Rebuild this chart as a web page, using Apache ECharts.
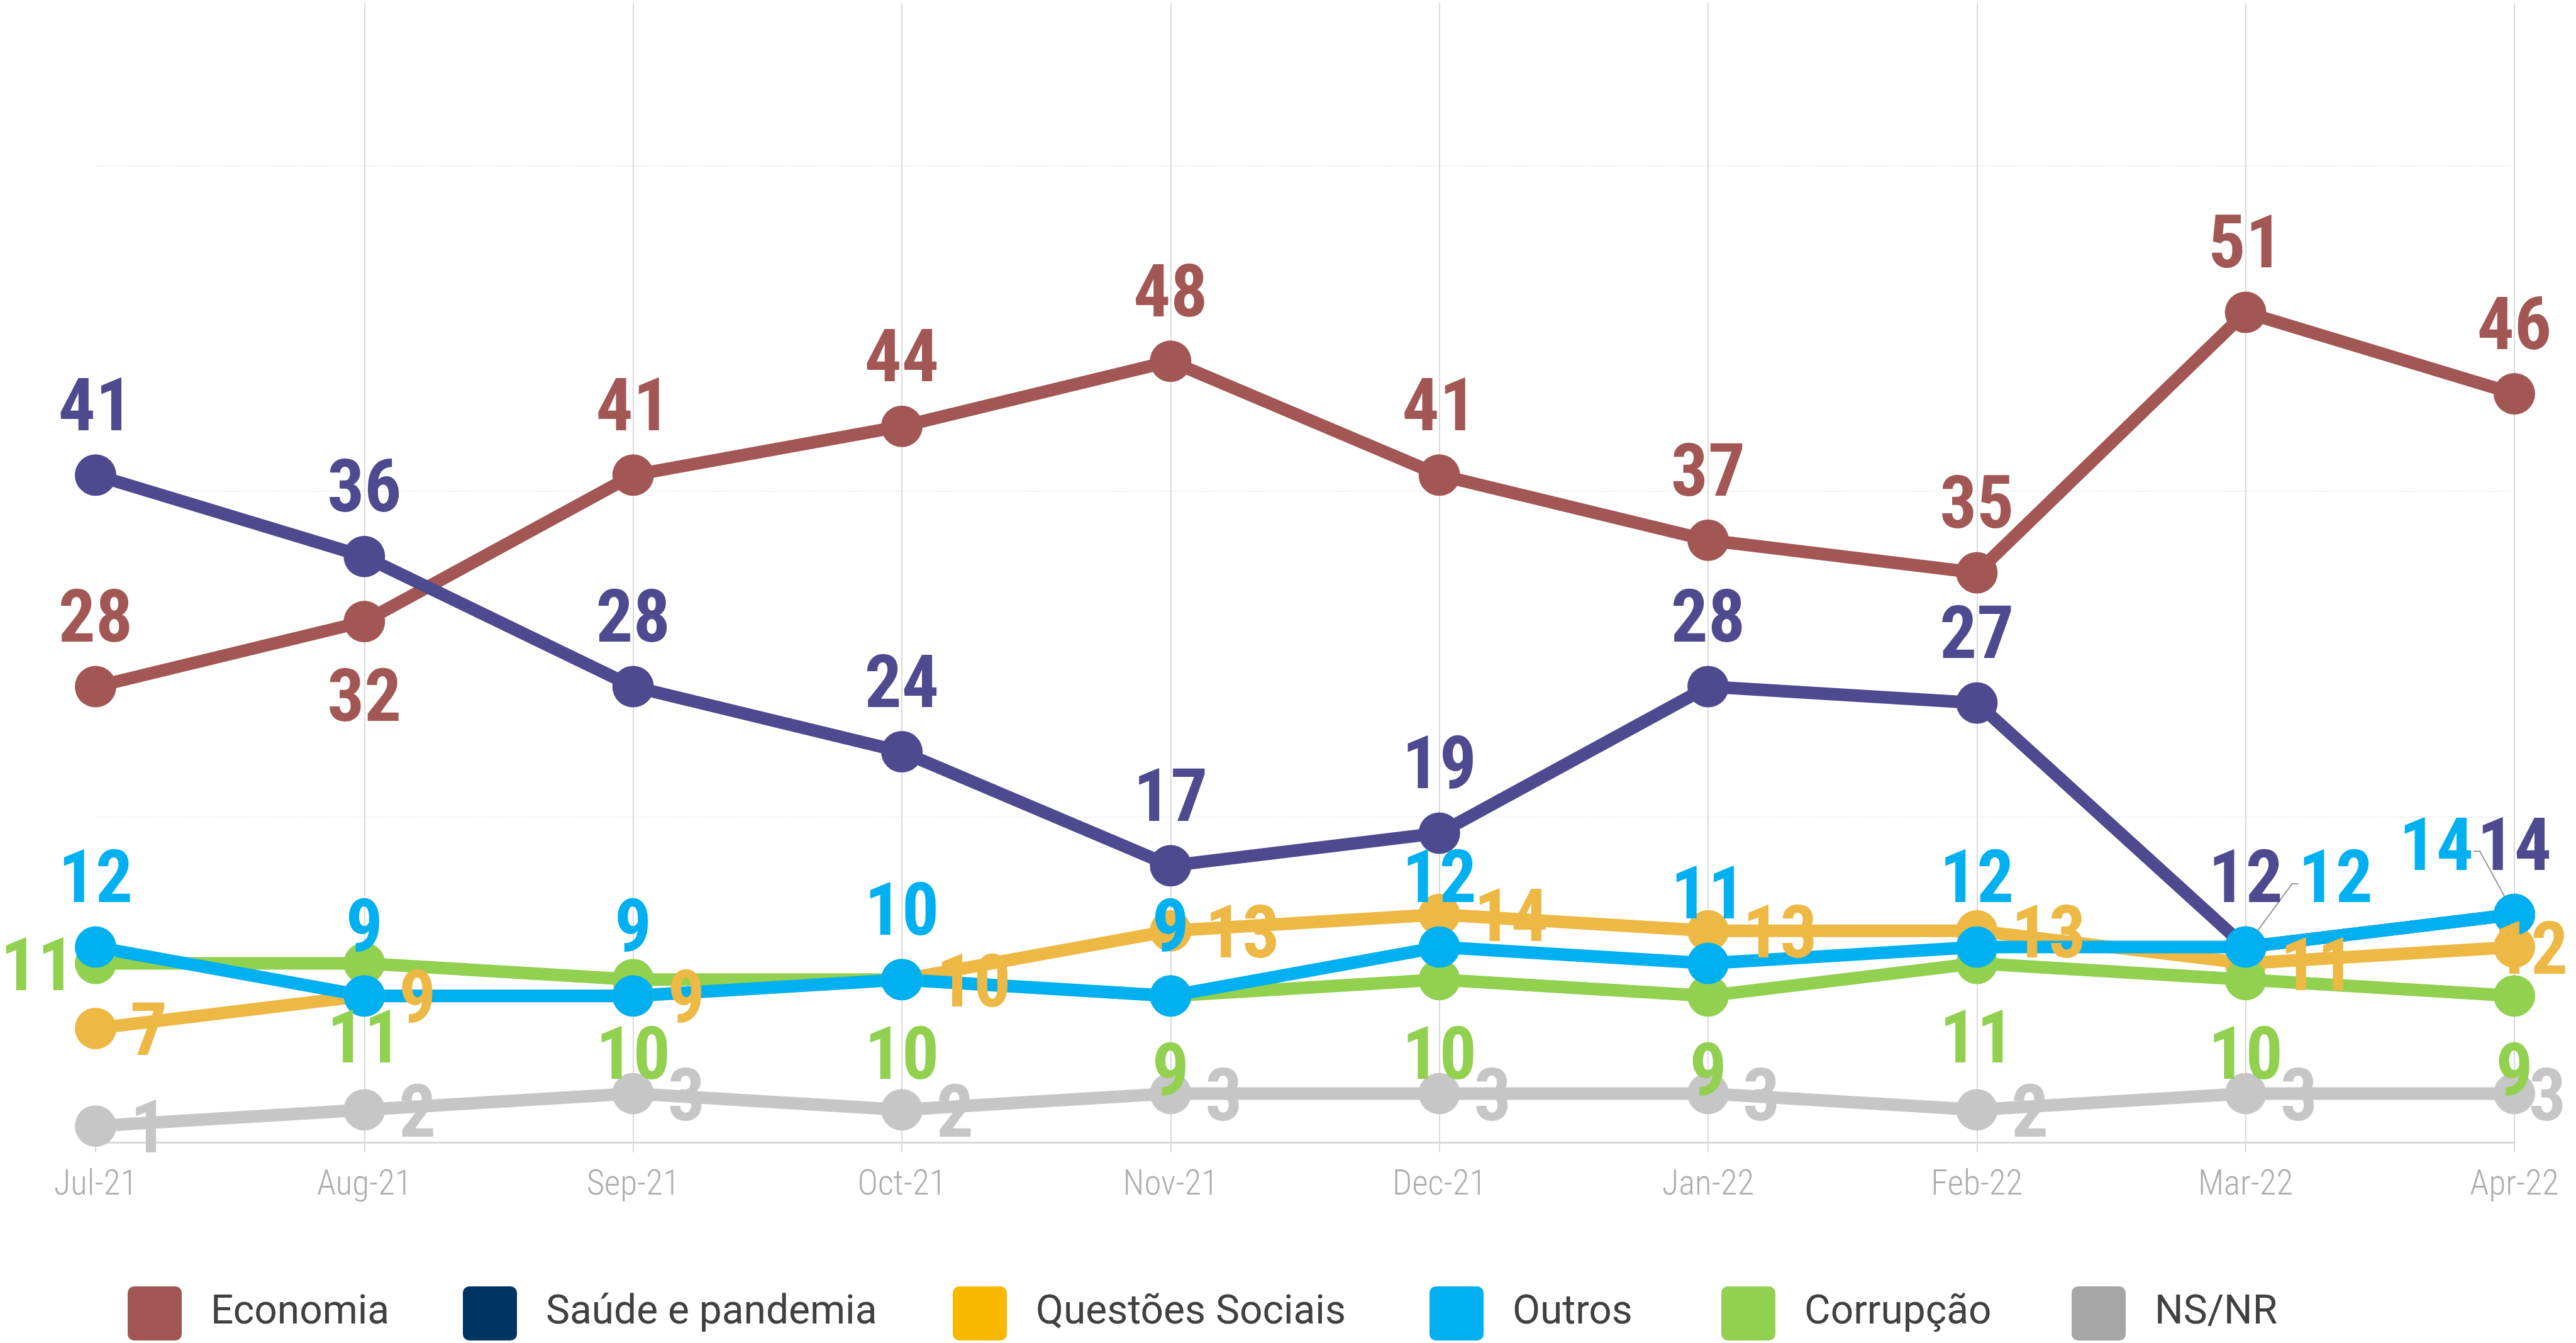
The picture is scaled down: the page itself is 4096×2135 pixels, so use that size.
<!DOCTYPE html>
<html>
<head>
<meta charset="utf-8">
<script src="https://cdn.jsdelivr.net/npm/echarts@6/dist/echarts.min.js"></script>
<style>
  html, body { margin: 0; padding: 0; background: #ffffff; }
  #chart { width: 4096px; height: 2135px; }
</style>
</head>
<body>
<div id="chart"></div>
<script>
// Monthly survey: main problem of the country (%)
const months = ['Jul-21', 'Aug-21', 'Sep-21', 'Oct-21', 'Nov-21', 'Dec-21', 'Jan-22', 'Feb-22', 'Mar-22', 'Apr-22'];
const economia  = [28, 32, 41, 44, 48, 41, 37, 35, 51, 46];
const saude     = [41, 36, 28, 24, 17, 19, 28, 27, 12, 14];
const questoes  = [7, 9, 9, 10, 13, 14, 13, 13, 11, 12];
const outros    = [12, 9, 9, 10, 9, 12, 11, 12, 12, 14];
const corrupcao = [11, 11, 10, 10, 9, 10, 9, 11, 10, 9];
const nsnr      = [1, 2, 3, 2, 3, 3, 3, 2, 3, 3];
const legendNames = ['Economia', 'Saúde e pandemia', 'Questões Sociais', 'Outros', 'Corrupção', 'NS/NR'];

const FONT = "Roboto, 'Noto Sans', sans-serif";

const lineColors = {
  'Economia': '#a25754',
  'Saúde e pandemia': '#4e4a8f',
  'Questões Sociais': '#edb844',
  'Outros': '#00b0f0',
  'Corrupção': '#92d050',
  'NS/NR': '#c6c6c6'
};
const legendColors = ['#a25754', '#003462', '#f9b800', '#00b0f0', '#92d050', '#a6a6a6'];
const legendLeft = [198, 731, 1510, 2268, 2732, 3289];

const ROUND_SQUARE = 'path://M10,0H76A10,10,0,0,1,86,10V76A10,10,0,0,1,76,86H10A10,10,0,0,1,0,76V10A10,10,0,0,1,10,0Z';

// label placements
const TOP = { position: 'top', distance: 9 };
const BOTTOM = { position: 'bottom', distance: 37 };
const RIGHT = { position: 'right', distance: 22, offset: [0, 13] };

function lineSeries(name, values, labelBase, itemLabels, extra) {
  const color = lineColors[name];
  itemLabels = itemLabels || {};
  return Object.assign({
    name: name,
    type: 'line',
    data: values.map(function (v, i) {
      const item = { value: v };
      if (itemLabels[i]) Object.assign(item, itemLabels[i]);
      return item;
    }),
    symbol: 'circle',
    symbolSize: 66,
    showAllSymbol: true,
    itemStyle: { color: color },
    lineStyle: { color: color, width: 20 },
    label: Object.assign({
      show: true,
      color: color,
      fontFamily: FONT,
      fontWeight: 'bold condensed',
      fontSize: 117
    }, labelBase),
    emphasis: { disabled: true },
    animation: false
  }, extra || {});
}

// Outros: two labels pushed sideways with a guide line back to the point
const outrosShift = { 8: 143, 9: -124 };

const series = [
  lineSeries('Economia', economia, TOP, {
    1: { label: BOTTOM }
  }),
  lineSeries('Saúde e pandemia', saude, TOP),
  lineSeries('NS/NR', nsnr, RIGHT, {
    9: { label: { offset: [-32, 13] } }
  }),
  lineSeries('Questões Sociais', questoes, RIGHT, {
    9: { label: { offset: [-88, 13] } }
  }),
  lineSeries('Corrupção', corrupcao, BOTTOM, {
    0: { label: { position: 'left', distance: 12, offset: [12, 13] } }
  }),
  lineSeries('Outros', outros, TOP, {
    8: { labelLine: { show: true } },
    9: { labelLine: { show: true } }
  }, {
    labelLine: { show: false, length2: 10, lineStyle: { color: '#999999', width: 2 } },
    labelLayout: function (p) {
      return outrosShift[p.dataIndex] != null ? { dx: outrosShift[p.dataIndex] } : {};
    }
  })
];

const legends = legendNames.map(function (name, i) {
  return {
    data: [{ name: name, itemStyle: { color: legendColors[i] } }],
    left: legendLeft[i],
    top: 2040,
    icon: ROUND_SQUARE,
    itemWidth: 86,
    itemHeight: 86,
    selectedMode: false,
    textStyle: {
      color: '#404040',
      fontFamily: FONT,
      fontSize: 64,
      padding: [0, 0, 0, 41]
    }
  };
});

const chart = echarts.init(document.getElementById('chart'), null, { renderer: 'canvas' });
chart.setOption({
  animation: false,
  backgroundColor: '#ffffff',
  grid: { left: 152, right: 98, top: 5, bottom: 319, containLabel: false },
  xAxis: {
    type: 'category',
    data: months,
    boundaryGap: false,
    axisLine: { show: true, lineStyle: { color: '#d9d9d9', width: 3 } },
    axisTick: { show: true, length: 16, lineStyle: { color: '#d9d9d9', width: 2 } },
    splitLine: { show: true, showMinLine: false, lineStyle: { color: '#dadada', width: 2 } },
    axisLabel: {
      color: '#adadad',
      fontFamily: FONT,
      fontWeight: '300 condensed',
      fontSize: 55,
      margin: 42
    }
  },
  yAxis: {
    type: 'value',
    min: 0,
    max: 70,
    interval: 20,
    axisLine: { show: false },
    axisTick: { show: false },
    axisLabel: { show: false },
    splitLine: {
      show: true,
      showMinLine: false,
      showMaxLine: false,
      lineStyle: { color: '#ececec', width: 2, type: 'dotted' }
    }
  },
  legend: legends,
  series: series
});
</script>
</body>
</html>
